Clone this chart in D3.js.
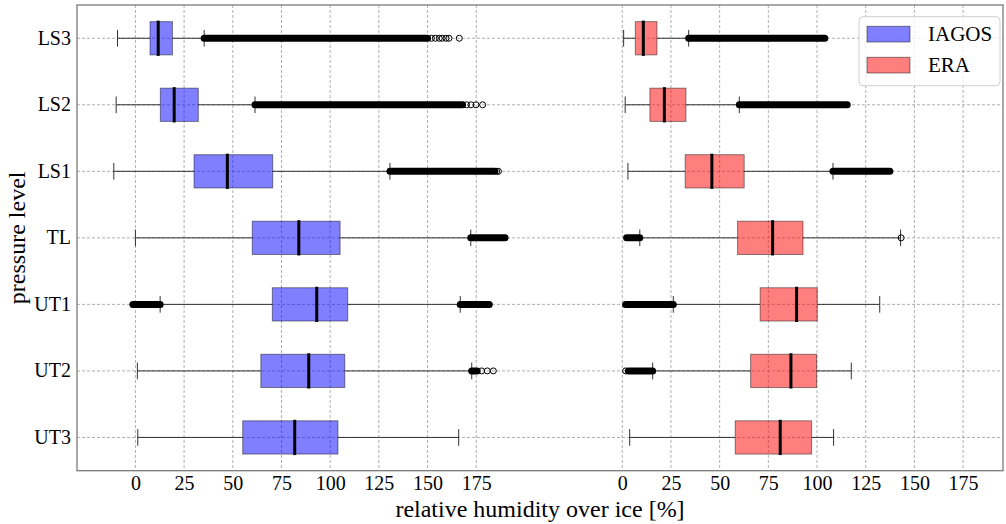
<!DOCTYPE html>
<html>
<head>
<meta charset="utf-8">
<script src="https://cdn.jsdelivr.net/npm/d3@7"></script>
<style>
  body { margin: 0; background: #fff; }
  text { font-family: 'Liberation Serif', 'Times New Roman', serif; fill: #000; }
</style>
</head>
<body>
<div id="wrapper"></div>
<script>
// data (levels listed from top to bottom)
const levels = ['LS3', 'LS2', 'LS1', 'TL', 'UT1', 'UT2', 'UT3'];
const tickValues = [0, 25, 50, 75, 100, 125, 150, 175];
const eraOffset = 250; // ERA boxes are drawn on a shifted copy of the axis

const iagosLow = [-9.2, -9.9, -11.1, 0, 12.7, 1.0, 1.2];
const iagosQ1 = [7.5, 12.8, 30.1, 60, 70.3, 64.4, 55.1];
const iagosMedian = [11.7, 19.9, 47.2, 83.9, 93.1, 89, 81.8];
const iagosQ3 = [19, 32.3, 70.5, 105.1, 109, 107.5, 104];
const iagosHigh = [35.3, 61.4, 130.7, 172.2, 166.8, 172.7, 166];

const eraLow = [0.7, 1.5, 2.9, 9.0, 26.2, 15.6, 3.8];
const eraQ1 = [6.7, 14.2, 32.3, 59.2, 70.8, 65.9, 58];
const eraMedian = [10.8, 21.6, 46, 77.2, 89.5, 86.6, 81.1];
const eraQ3 = [17.8, 32.7, 62.6, 92.8, 100.1, 99.8, 97.2];
const eraHigh = [34.1, 60.1, 108.2, 142.9, 132.2, 117.6, 108.5];

// outliers so dense they merge into a band: [level, from, to]
const iagosOutlierBands = [
  ['LS3', 35.3, 150], ['LS2', 61.4, 168], ['LS1', 130.7, 184.5],
  ['TL', 172.2, 189.8], ['UT1', -1.3, 12.7], ['UT1', 166.8, 181.7],
  ['UT2', 172.7, 175.5]
];
const eraOutlierBands = [
  ['LS3', 34.1, 104], ['LS2', 60.1, 115.5], ['LS1', 108.2, 137.4],
  ['TL', 2.2, 9.0], ['UT1', 1.7, 26.2], ['UT2', 3.1, 15.6]
];
// separate outlier points: [level, value]
const iagosOutliers = [
  ['LS3', 152], ['LS3', 154], ['LS3', 156], ['LS3', 157.5], ['LS3', 159.5], ['LS3', 161], ['LS3', 166.3],
  ['LS2', 170], ['LS2', 172.3], ['LS2', 174.9], ['LS2', 178.3],
  ['LS1', 185.5], ['LS1', 186.4],
  ['UT2', 177.8], ['UT2', 180.7], ['UT2', 183.8]
];
const eraOutliers = [['TL', 143.2], ['UT2', 1.7]];

const seriesNames = ['IAGOS', 'ERA'];
const seriesColors = ['rgba(0,0,255,0.5)', 'rgba(255,0,0,0.5)'];

function drawChart() {
  const dimensions = {
    width: 1006,
    height: 524,
    margin: { top: 5, right: 3, bottom: 53.3, left: 77 }
  };
  dimensions.boundedWidth = dimensions.width - dimensions.margin.left - dimensions.margin.right;
  dimensions.boundedHeight = dimensions.height - dimensions.margin.top - dimensions.margin.bottom;

  const wrapper = d3.select('#wrapper')
    .append('svg')
    .attr('width', dimensions.width)
    .attr('height', dimensions.height);

  const bounds = wrapper.append('g')
    .attr('transform', `translate(${dimensions.margin.left},${dimensions.margin.top})`);

  // scales
  const xScale = d3.scaleLinear()
    .domain([-30, 445.5])
    .range([0, dimensions.boundedWidth]);

  const yScale = d3.scaleBand()
    .domain(levels)
    .range([0, dimensions.boundedHeight]);

  const yMid = d => yScale(d) + yScale.bandwidth() / 2;
  const boxH = yScale.bandwidth() * 0.5;

  const allTicks = tickValues.concat(tickValues.map(v => v + eraOffset));

  // grid
  bounds.append('g')
    .selectAll('line')
    .data(allTicks)
    .join('line')
    .attr('x1', d => xScale(d)).attr('x2', d => xScale(d))
    .attr('y1', 0).attr('y2', dimensions.boundedHeight)
    .attr('stroke', '#9a9a9a').attr('stroke-width', 0.8)
    .attr('stroke-dasharray', '3,2');

  bounds.append('g')
    .selectAll('line')
    .data(levels)
    .join('line')
    .attr('x1', 0).attr('x2', dimensions.boundedWidth)
    .attr('y1', d => yMid(d)).attr('y2', d => yMid(d))
    .attr('stroke', '#9a9a9a').attr('stroke-width', 0.8)
    .attr('stroke-dasharray', '3,2');

  const drawSeries = (low, q1, med, q3, high, bands, points, offset, color) => {
    const g = bounds.append('g');
    const rows = levels.map((lvl, i) => ({
      lvl, low: low[i] + offset, q1: q1[i] + offset, med: med[i] + offset,
      q3: q3[i] + offset, high: high[i] + offset
    }));

    // whiskers
    g.selectAll('.wl').data(rows).join('line')
      .attr('x1', d => xScale(d.low)).attr('x2', d => xScale(d.q1))
      .attr('y1', d => yMid(d.lvl)).attr('y2', d => yMid(d.lvl))
      .attr('stroke', '#333').attr('stroke-width', 1);
    g.selectAll('.wh').data(rows).join('line')
      .attr('x1', d => xScale(d.q3)).attr('x2', d => xScale(d.high))
      .attr('y1', d => yMid(d.lvl)).attr('y2', d => yMid(d.lvl))
      .attr('stroke', '#333').attr('stroke-width', 1);

    // caps
    rows.forEach(d => {
      [d.low, d.high].forEach(v => {
        g.append('line')
          .attr('x1', xScale(v)).attr('x2', xScale(v))
          .attr('y1', yMid(d.lvl) - boxH / 4).attr('y2', yMid(d.lvl) + boxH / 4)
          .attr('stroke', '#333').attr('stroke-width', 1);
      });
    });

    // dense outliers
    g.selectAll('.band').data(bands).join('line')
      .attr('x1', d => xScale(d[1] + offset)).attr('x2', d => xScale(d[2] + offset))
      .attr('y1', d => yMid(d[0])).attr('y2', d => yMid(d[0]))
      .attr('stroke', '#000').attr('stroke-width', 7).attr('stroke-linecap', 'round');

    // single outliers
    g.selectAll('circle').data(points).join('circle')
      .attr('cx', d => xScale(d[1] + offset))
      .attr('cy', d => yMid(d[0]))
      .attr('r', 3)
      .attr('fill', 'none').attr('stroke', '#000').attr('stroke-width', 1);

    // boxes
    g.selectAll('rect').data(rows).join('rect')
      .attr('x', d => xScale(d.q1))
      .attr('width', d => xScale(d.q3) - xScale(d.q1))
      .attr('y', d => yMid(d.lvl) - boxH / 2)
      .attr('height', boxH)
      .attr('fill', color)
      .attr('stroke', 'rgba(0,0,0,0.45)').attr('stroke-width', 1);

    // medians
    g.selectAll('.med').data(rows).join('line')
      .attr('x1', d => xScale(d.med)).attr('x2', d => xScale(d.med))
      .attr('y1', d => yMid(d.lvl) - boxH / 2 - 1).attr('y2', d => yMid(d.lvl) + boxH / 2 + 1)
      .attr('stroke', '#000').attr('stroke-width', 3);
  };

  drawSeries(iagosLow, iagosQ1, iagosMedian, iagosQ3, iagosHigh,
    iagosOutlierBands, iagosOutliers, 0, seriesColors[0]);
  drawSeries(eraLow, eraQ1, eraMedian, eraQ3, eraHigh,
    eraOutlierBands, eraOutliers, eraOffset, seriesColors[1]);

  // frame
  bounds.append('rect')
    .attr('width', dimensions.boundedWidth)
    .attr('height', dimensions.boundedHeight)
    .attr('fill', 'none')
    .attr('stroke', '#7a7a7a').attr('stroke-width', 1.3);

  // x axis
  const xAxisGenerator = d3.axisBottom(xScale)
    .tickValues(allTicks)
    .tickFormat(d => d >= eraOffset ? d - eraOffset : d)
    .tickSize(0)
    .tickPadding(5);

  const xAxis = bounds.append('g')
    .attr('transform', `translate(0,${dimensions.boundedHeight})`)
    .call(xAxisGenerator);
  xAxis.select('.domain').remove();
  xAxis.selectAll('text')
    .style('font-family', "'Liberation Serif', serif")
    .style('font-size', '20px')
    .attr('fill', '#000');

  xAxis.append('text')
    .attr('x', dimensions.boundedWidth / 2)
    .attr('y', 517 - dimensions.margin.top - dimensions.boundedHeight)
    .attr('text-anchor', 'middle')
    .style('font-size', '24px')
    .text('relative humidity over ice [%]');

  // y axis
  const yAxisGenerator = d3.axisLeft(yScale).tickSize(0).tickPadding(6);
  const yAxis = bounds.append('g').call(yAxisGenerator);
  yAxis.select('.domain').remove();
  yAxis.selectAll('text')
    .style('font-family', "'Liberation Serif', serif")
    .style('font-size', '20px')
    .attr('fill', '#000');

  bounds.append('text')
    .attr('transform', `translate(${25 - dimensions.margin.left},${dimensions.boundedHeight / 2}) rotate(-90)`)
    .attr('text-anchor', 'middle')
    .style('font-size', '24px')
    .text('pressure level');

  // legend
  const legend = wrapper.append('g').attr('transform', 'translate(859,16.7)');
  legend.append('rect')
    .attr('width', 141).attr('height', 69).attr('rx', 4)
    .attr('fill', 'rgba(255,255,255,0.8)')
    .attr('stroke', '#d0d0d0').attr('stroke-width', 1);
  seriesNames.forEach((name, i) => {
    legend.append('rect')
      .attr('x', 8).attr('y', 9.6 + i * 31)
      .attr('width', 43).attr('height', 15.7)
      .attr('fill', seriesColors[i])
      .attr('stroke', 'rgba(0,0,0,0.45)');
    legend.append('text')
      .attr('x', 69).attr('y', 24.5 + i * 31)
      .style('font-size', '21px')
      .text(name);
  });
}
drawChart();
</script>
</body>
</html>
